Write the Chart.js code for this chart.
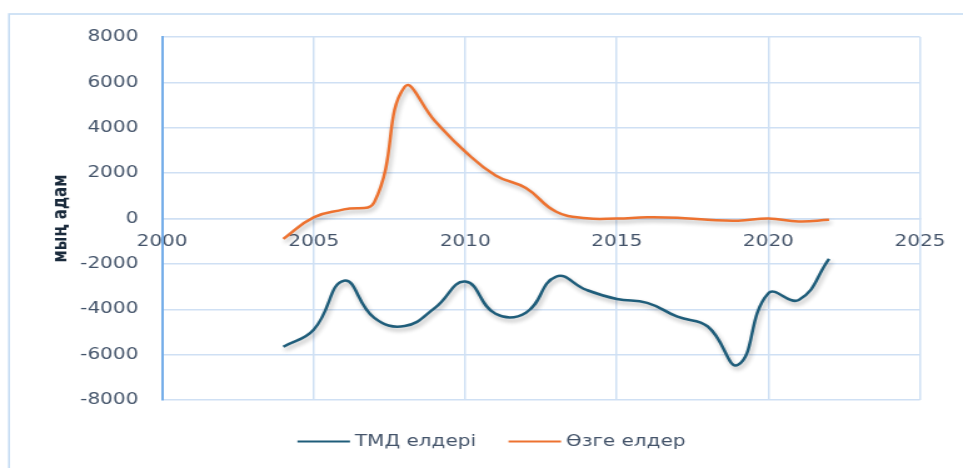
<!DOCTYPE html>
<html>
<head>
<meta charset="utf-8">
<script src="https://cdn.jsdelivr.net/npm/chart.js@4.4.1/dist/chart.umd.min.js"></script>
<style>
  html, body { margin: 0; padding: 0; background: #fff; overflow: hidden; }
  /* the source picture is stretched sideways, so the canvas is too */
  #wrap { width: 770px; height: 468px; transform: scaleX(1.2506); transform-origin: 0 0; }
</style>
</head>
<body>
<div id="wrap"><canvas id="chart" width="770" height="468"></canvas></div>
<script>
const years = [2004, 2005, 2006, 2007, 2008, 2009, 2010, 2011, 2012, 2013, 2014, 2015, 2016, 2017, 2018, 2019, 2020, 2021, 2022];
const cisValues = [-5650, -4900, -2740, -4380, -4740, -3940, -2780, -4200, -4150, -2560, -3150, -3550, -3720, -4330, -4760, -6450, -3290, -3590, -1780];
const otherValues = [-900, 50, 400, 720, 5800, 4300, 2950, 1900, 1340, 300, 10, 0, 50, 30, -60, -100, 0, -130, -60];
const xTicks = [2000, 2005, 2010, 2015, 2020, 2025];
const yTicks = [-8000, -6000, -4000, -2000, 0, 2000, 4000, 6000, 8000];
const seriesNames = ['ТМД елдері', 'Өзге елдер'];
const seriesColors = ['#1f5d7a', '#ed7230'];

const textColor = '#44546a';
const gridColor = '#cfe0f4';
const fontFamily = '"DejaVu Sans", sans-serif';

function points(values) {
  return years.map((y, i) => ({ x: y, y: values[i] }));
}

// light blue frame round the whole chart
const framePlugin = {
  id: 'frame',
  beforeDraw(chart) {
    const ctx = chart.ctx;
    ctx.save();
    ctx.strokeStyle = '#c6dcf3';
    ctx.lineWidth = 1.6;
    ctx.strokeRect(7.2, 14, 900, 600);
    ctx.restore();
  }
};

// soft shadow under the lines
const shadowPlugin = {
  id: 'lineShadow',
  beforeDatasetDraw(chart) {
    const ctx = chart.ctx;
    ctx.save();
    ctx.shadowColor = 'rgba(0,0,0,0.3)';
    ctx.shadowBlur = 4;
    ctx.shadowOffsetX = 1.5;
    ctx.shadowOffsetY = 3;
  },
  afterDatasetDraw(chart) {
    chart.ctx.restore();
  }
};

// legend drawn by hand: short line then name, centred under the plot
const legendPlugin = {
  id: 'lineLegend',
  afterDraw(chart) {
    const ctx = chart.ctx;
    const lineLen = 42, gap = 4, spacing = 26, centre = 393, y = 441.5;
    ctx.save();
    ctx.font = '16px ' + fontFamily;
    ctx.textBaseline = 'middle';
    const items = chart.data.datasets.map(ds => ({ text: ds.label, color: ds.borderColor, w: ctx.measureText(ds.label).width }));
    const total = items.reduce((s, it) => s + lineLen + gap + it.w, 0) + spacing * (items.length - 1);
    let x = centre - total / 2;
    items.forEach(it => {
      ctx.strokeStyle = it.color;
      ctx.lineWidth = 2.2;
      ctx.beginPath();
      ctx.moveTo(x, y);
      ctx.lineTo(x + lineLen, y);
      ctx.stroke();
      ctx.fillStyle = textColor;
      ctx.fillText(it.text, x + lineLen + gap, y + 0.5);
      x += lineLen + gap + it.w + spacing;
    });
    ctx.restore();
  }
};

const ctx = document.getElementById('chart').getContext('2d');
new Chart(ctx, {
  type: 'line',
  data: {
    datasets: [
      {
        label: seriesNames[0],
        data: points(cisValues),
        borderColor: seriesColors[0],
        backgroundColor: seriesColors[0],
        borderWidth: 2.5,
        pointRadius: 0,
        tension: 0.45,
        fill: false
      },
      {
        label: seriesNames[1],
        data: points(otherValues),
        borderColor: seriesColors[1],
        backgroundColor: seriesColors[1],
        borderWidth: 2.5,
        pointRadius: 0,
        tension: 0.45,
        fill: false
      }
    ]
  },
  options: {
    responsive: false,
    animation: false,
    devicePixelRatio: 1,
    layout: { padding: { left: 0, right: 34, top: 37, bottom: 68 } },
    plugins: {
      legend: { display: false },
      tooltip: { enabled: false }
    },
    scales: {
      x: {
        type: 'linear',
        min: xTicks[0],
        max: xTicks[xTicks.length - 1],
        position: { y: 0 },
        afterBuildTicks: scale => { scale.ticks = xTicks.map(v => ({ value: v })); },
        grid: { color: gridColor, lineWidth: 1.5, drawTicks: false },
        border: { color: gridColor, width: 1.5 },
        ticks: {
          padding: 14,
          maxRotation: 0,
          color: textColor,
          font: { family: fontFamily, size: 16 },
          callback: v => String(v)
        }
      },
      y: {
        min: yTicks[0],
        max: yTicks[yTicks.length - 1],
        afterBuildTicks: scale => { scale.ticks = yTicks.map(v => ({ value: v })); },
        afterFit: scale => { scale.width = 129.6; },
        grid: { color: gridColor, lineWidth: 1.5, drawTicks: false },
        border: { color: '#76aee9', width: 2 },
        ticks: {
          padding: 19,
          color: textColor,
          font: { family: fontFamily, size: 16 },
          callback: v => String(v)
        },
        title: {
          display: true,
          text: 'мың адам',
          color: '#1b2b3c',
          font: { family: fontFamily, size: 15, weight: 'bold' },
          padding: { top: 40, bottom: 0 }
        }
      }
    }
  },
  plugins: [framePlugin, shadowPlugin, legendPlugin]
});
</script>
</body>
</html>
